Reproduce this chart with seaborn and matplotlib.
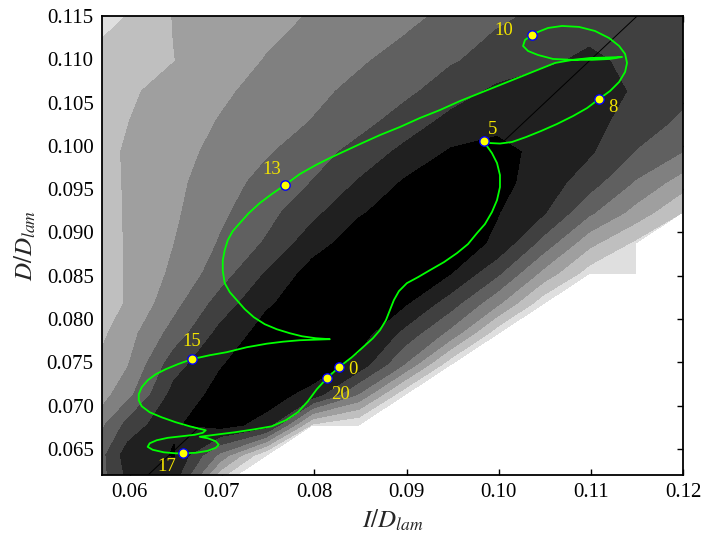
import numpy as np
import pandas as pd
import matplotlib
matplotlib.use('Agg')
import matplotlib.pyplot as plt
import seaborn as sns
from matplotlib.ticker import FormatStrFormatter, MultipleLocator

nan = np.nan

# background field on a coarse grid (nan = no data)
grid_x = [0.0548, 0.0598, 0.0648, 0.0698, 0.0748, 0.0798, 0.0848, 0.0898,
          0.0948, 0.0998, 0.1048, 0.1098, 0.1148, 0.1198, 0.1248]
grid_y = [0.0608, 0.0643, 0.0678, 0.0713, 0.0748, 0.0783, 0.0818, 0.0853, 0.0888,
          0.0923, 0.0958, 0.0993, 0.1028, 0.1063, 0.1098, 0.1133, 0.1168]
field = [
    [4.5, 7.1, 7.1, 1.2, nan, nan, nan, nan, nan, nan, nan, nan, nan, nan, nan],
    [4.3, 7.5, 8.05, 4.7, 1.0, nan, nan, nan, nan, nan, nan, nan, nan, nan, nan],
    [3.6, 6.3, 7.9, 8.4, 7.6, 1.8, 1.0, nan, nan, nan, nan, nan, nan, nan, nan],
    [2.8, 4.64, 7.35, 8.3, 8.5, 7.6, 4.9, 1.2, nan, nan, nan, nan, nan, nan, nan],
    [2.6, 3.92, 6.55, 7.92, 8.6, 8.7, 7.64, 4.95, 1.3, nan, nan, nan, nan, nan, nan],
    [2.2, 3.59, 5.4, 7.3, 8.4, 8.9, 8.5, 6.65, 4.6, 1.3, nan, nan, nan, nan, nan],
    [2.3, 3.07, 4.65, 6.4, 7.85, 8.6, 8.9, 8.1, 6.43, 4.2, 1.3, nan, nan, nan, nan],
    [2.4, 3.05, 4.2, 5.48, 7.06, 8.4, 8.9, 8.6, 8.0, 6.2, 3.7, 1.5, 1.2, nan, nan],
    [2.4, 3.06, 3.98, 5.07, 6.1, 7.55, 8.5, 8.8, 8.6, 7.8, 5.63, 3.3, 1.8, nan, nan],
    [2.45, 3.07, 3.83, 4.8, 5.64, 6.71, 7.88, 8.5, 8.7, 8.05, 7.1, 5.17, 3.62, 2.0, nan],
    [2.5, 3.07, 3.75, 4.54, 5.32, 6.02, 7.07, 8.1, 8.6, 8.3, 7.55, 6.44, 4.89, 3.53, 2.2],
    [2.55, 3.08, 3.66, 4.26, 4.88, 5.55, 6.33, 7.25, 8.1, 8.3, 7.72, 7.12, 5.94, 5.0, 3.8],
    [2.5, 2.98, 3.52, 4.05, 4.54, 5.03, 5.63, 6.42, 7.3, 7.7, 7.75, 7.3, 6.6, 5.8, 5.3],
    [2.4, 2.85, 3.35, 3.83, 4.3, 4.75, 5.24, 5.76, 6.49, 7.2, 7.5, 7.4, 6.9, 6.3, 6.1],
    [2.1, 2.5, 2.98, 3.52, 4.05, 4.46, 4.87, 5.36, 5.9, 6.36, 6.81, 7.2, 6.75, 6.5, 6.4],
    [1.52, 2.28, 3.02, 3.41, 3.8, 4.18, 4.56, 4.93, 5.47, 6.02, 6.3, 6.75, 6.6, 6.5, 6.4],
    [1.2, 1.75, 3.07, 3.37, 3.66, 3.96, 4.3, 4.65, 5.01, 5.48, 5.98, 6.3, 6.5, 6.4, 6.3],
]
levels = [1, 2, 3, 4, 5, 6, 7, 8, 10]
grays = ['#dfdfdf', '#bfbfbf', '#9f9f9f', '#808080', '#606060', '#404040', '#202020', '#000000']

# trajectory (green line)
traj_x = [0.08267, 0.08408, 0.08527, 0.08636, 0.08712, 0.08777, 0.08820, 0.08863, 0.08918, 0.09004,
          0.09124, 0.09254, 0.09406, 0.09547, 0.09666, 0.09764, 0.09850, 0.09926, 0.09981, 0.10013,
          0.10013, 0.09981, 0.09926, 0.09872, 0.09840,
          0.09905, 0.10013, 0.10143, 0.10295, 0.10458, 0.10631, 0.10805, 0.10957, 0.11087,
          0.11206, 0.11304, 0.11369, 0.11390, 0.11369, 0.11304, 0.11195, 0.11043, 0.10870, 0.10686,
          0.10534, 0.10425, 0.10360,
          0.10284, 0.10263, 0.10317, 0.10425, 0.10588, 0.10794, 0.11011, 0.11206, 0.11336, 0.11184,
          0.10989, 0.10794, 0.10610, 0.10447, 0.10230, 0.10013, 0.09796, 0.09579, 0.09362, 0.09145,
          0.08928, 0.08712, 0.08495, 0.08332, 0.08169, 0.08017, 0.07844, 0.07681,
          0.07540, 0.07410, 0.07291, 0.07193, 0.07117, 0.07063, 0.07030, 0.07009, 0.07009, 0.07030,
          0.07085, 0.07161, 0.07247, 0.07345, 0.07464, 0.07594, 0.07735, 0.07866, 0.08017, 0.08169,
          0.08017, 0.07844, 0.07660, 0.07486, 0.07269, 0.07052, 0.06868, 0.06672,
          0.06521, 0.06390, 0.06282, 0.06195, 0.06130, 0.06098, 0.06098, 0.06130, 0.06217, 0.06347,
          0.06499, 0.06651, 0.06759, 0.06824, 0.06792, 0.06705, 0.06564, 0.06412, 0.06293, 0.06217,
          0.06195, 0.06249, 0.06369, 0.06499, 0.06575,
          0.06716, 0.06846, 0.06933, 0.06965, 0.06933, 0.06846, 0.06759, 0.06922, 0.07139, 0.07356,
          0.07540, 0.07692, 0.07822, 0.07931, 0.08028, 0.08137, 0.08202, 0.08267]
traj_y = [0.07444, 0.07560, 0.07675, 0.07779, 0.07872, 0.07987, 0.08103, 0.08219, 0.08323, 0.08415,
          0.08484, 0.08565, 0.08658, 0.08762, 0.08866, 0.08993, 0.09097, 0.09236, 0.09374, 0.09524,
          0.09663, 0.09802, 0.09917, 0.09998, 0.10056,
          0.10033, 0.10027, 0.10045, 0.10102, 0.10172, 0.10253, 0.10345, 0.10437, 0.10542,
          0.10634, 0.10738, 0.10854, 0.10958, 0.11062, 0.11154, 0.11246, 0.11327, 0.11374, 0.11385,
          0.11362, 0.11316, 0.11281,
          0.11223, 0.11154, 0.11096, 0.11050, 0.11004, 0.10994, 0.10994, 0.11004, 0.11027, 0.11021,
          0.11015, 0.10992, 0.10958, 0.10888, 0.10796, 0.10703, 0.10611, 0.10518, 0.10414, 0.10322,
          0.10218, 0.10125, 0.10021, 0.09941, 0.09860, 0.09779, 0.09675, 0.09548,
          0.09444, 0.09340, 0.09224, 0.09108, 0.09016, 0.08912, 0.08796, 0.08681, 0.08554, 0.08415,
          0.08311, 0.08219, 0.08115, 0.08022, 0.07941, 0.07883, 0.07837, 0.07802, 0.07779, 0.07768,
          0.07762, 0.07756, 0.07739, 0.07716, 0.07675, 0.07618, 0.07583, 0.07537,
          0.07479, 0.07421, 0.07363, 0.07294, 0.07213, 0.07132, 0.07063, 0.06994, 0.06924, 0.06866,
          0.06809, 0.06762, 0.06733, 0.06716, 0.06687, 0.06664, 0.06647, 0.06629, 0.06601, 0.06566,
          0.06525, 0.06491, 0.06462, 0.06450, 0.06450,
          0.06456, 0.06479, 0.06514, 0.06549, 0.06589, 0.06624, 0.06641, 0.06664, 0.06693, 0.06728,
          0.06762, 0.06832, 0.06924, 0.07051, 0.07190, 0.07317, 0.07381, 0.07444]

# time markers
mark_t = ['0', '5', '8', '10', '13', '15', '17', '20']
mark_x = [0.08267, 0.09840, 0.11087, 0.10360, 0.07681, 0.06672, 0.06575, 0.08137]
mark_y = [0.07444, 0.10056, 0.10542, 0.11281, 0.09548, 0.07537, 0.06450, 0.07317]
label_off = [(10, -1.5), (6, 8), (10, -6.5), (-20, 3), (-9.5, 11.5), (0, 13), (-11.5, -9.5), (9.5, -11.5)]

sns.set_theme(style='ticks')
plt.rcParams['font.family'] = 'serif'
plt.rcParams['font.serif'] = ['Liberation Serif', 'DejaVu Serif']
plt.rcParams['mathtext.fontset'] = 'stix'

fig = plt.figure(figsize=(7.03, 5.37), dpi=100)
ax = fig.add_axes([0.1451, 0.1155, 0.8269, 0.8547])

Z = np.ma.masked_invalid(np.array(field))
cs = ax.contourf(grid_x, grid_y, Z, levels=levels, colors=grays, corner_mask=True, zorder=1)
cs.set_edgecolor('face')
cs.set_linewidth(0.4)

# y = x reference line
ax.axline((0.0, 0.0), slope=1.0, color='black', lw=0.7, zorder=2)

traj = pd.DataFrame({'x': traj_x, 'y': traj_y})
sns.lineplot(data=traj, x='x', y='y', sort=False, estimator=None, color='#00ff00',
             linewidth=1.3, ax=ax, zorder=3)

marks = pd.DataFrame({'x': mark_x, 'y': mark_y, 't': mark_t})
sns.scatterplot(data=marks, x='x', y='y', s=45, color='#ffff00', edgecolor='#0000ff',
                linewidth=1.0, ax=ax, zorder=4, legend=False)

for t, x, y, off in zip(mark_t, mark_x, mark_y, label_off):
    ax.annotate(t, (x, y), xytext=off, textcoords='offset points', ha='center', va='center',
                color='#f2e400', fontsize=13.5, zorder=5)

ax.set_xlim(0.057, 0.12)
ax.set_ylim(0.062, 0.115)
ax.xaxis.set_major_locator(MultipleLocator(0.01))
ax.yaxis.set_major_locator(MultipleLocator(0.005))
ax.xaxis.set_major_formatter(FormatStrFormatter('%.2f'))
ax.yaxis.set_major_formatter(FormatStrFormatter('%.3f'))
ax.tick_params(direction='in', top=True, right=True, length=4, width=1,
               labelsize=15, pad=6, colors='black')
for sp in ax.spines.values():
    sp.set_linewidth(1.3)
    sp.set_color('black')

ax.set_xlabel(r'$I/D_{lam}$', fontsize=18, labelpad=4)
ax.set_ylabel(r'$D/D_{lam}$', fontsize=18, labelpad=6)

fig.savefig('out.png', dpi=100)
